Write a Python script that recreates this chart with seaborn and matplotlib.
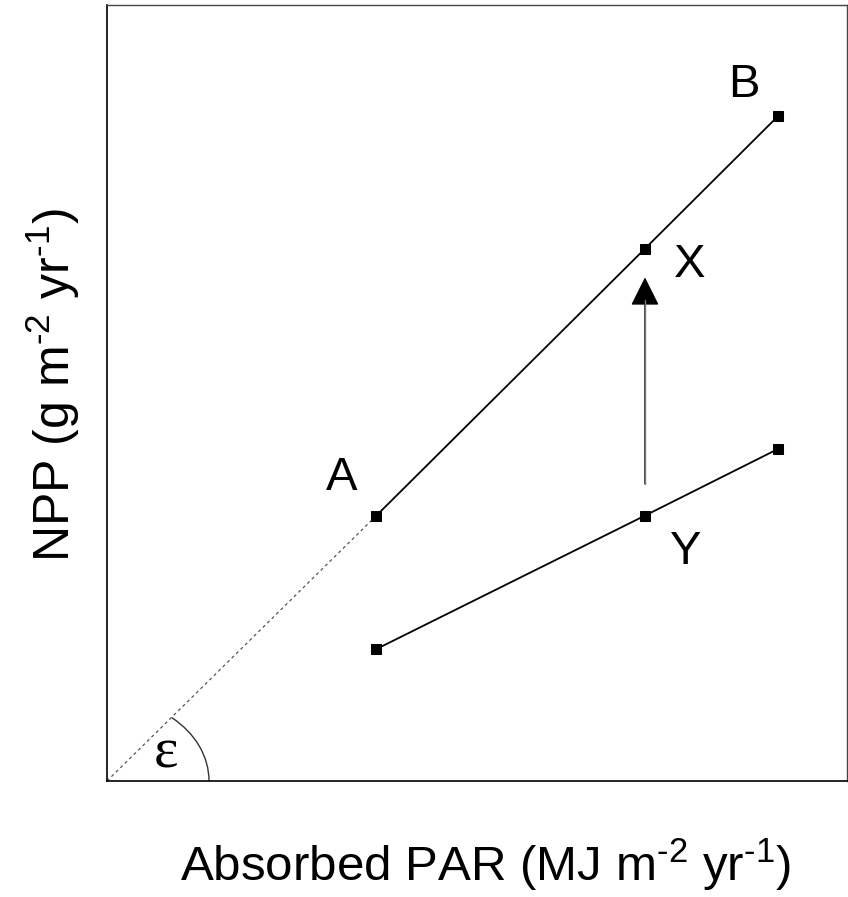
import numpy as np
import pandas as pd
import matplotlib
matplotlib.use("Agg")
import matplotlib.pyplot as plt
from matplotlib.patches import Arc
import seaborn as sns

# Light-use-efficiency diagram: NPP against absorbed PAR
par = [3.64, 7.27, 9.07]
npp_high = [3.42, 6.86, 8.57]
npp_low = [1.70, 3.42, 4.28]
point_labels_high = ["A", "X", "B"]
point_labels_low = ["", "Y", ""]

sns.set_style("white")
plt.rcParams["font.family"] = ["Liberation Sans", "DejaVu Sans"]
plt.rcParams["text.color"] = "black"
plt.rcParams["axes.labelcolor"] = "black"
plt.rcParams["mathtext.fontset"] = "custom"
plt.rcParams["mathtext.rm"] = "Liberation Sans"
plt.rcParams["mathtext.it"] = "Liberation Sans:italic"
plt.rcParams["mathtext.default"] = "regular"

df = pd.DataFrame({
    "par": par + par,
    "npp": npp_high + npp_low,
    "series": ["high"] * 3 + ["low"] * 3,
})

fig = plt.figure(figsize=(8.48, 8.97), dpi=100)
ax = fig.add_axes([107 / 848, 116 / 897, 740 / 848, 776 / 897])

sns.lineplot(data=df, x="par", y="npp", units="series", estimator=None,
             color="black", linewidth=1.3, marker="s", markersize=7,
             markeredgecolor="black", markerfacecolor="black", ax=ax,
             sort=False)

# dotted extension of the upper line back to the origin
ax.plot([0, par[0]], [0, npp_high[0]], color="#555555", linewidth=0.9,
        linestyle=(0, (2.5, 2.5)), zorder=1)

# arrow from Y up towards X
ax.annotate("", xy=(par[1], 6.49), xytext=(par[1], 3.83),
            arrowprops=dict(arrowstyle="-|>,head_length=1.8,head_width=0.9",
                            mutation_scale=10, color="black",
                            linewidth=1.0, shrinkA=0, shrinkB=0))
# grey shaft over the arrow body
ax.plot([par[1], par[1]], [3.83, 6.2], color="#777777", linewidth=1.0, zorder=3)

# angle arc at origin (epsilon)
ax.add_patch(Arc((0, 0), width=2 * 102 / 74, height=2 * 82 / 77.6,
                 theta1=0, theta2=43, color="#333333", linewidth=1.0))
ax.text(0.80, 0.17, "\u03b5", fontsize=42, family="Liberation Serif",
        ha="center", va="baseline")

offsets_high = [(-25, 27), (32, -12), (-25, 22)]
for x, y, lab, off in zip(par, npp_high, point_labels_high, offsets_high):
    ax.annotate(lab, (x, y), xytext=off, textcoords="offset points",
                ha="center", va="center", fontsize=34)
offsets_low = [(0, 0), (29, -26), (0, 0)]
for x, y, lab, off in zip(par, npp_low, point_labels_low, offsets_low):
    if lab:
        ax.annotate(lab, (x, y), xytext=off, textcoords="offset points",
                    ha="center", va="center", fontsize=34)

ax.set_xlim(0, 10)
ax.set_ylim(0, 10)
ax.set_xticks([])
ax.set_yticks([])
for side in ["left", "bottom"]:
    ax.spines[side].set_color("black")
    ax.spines[side].set_linewidth(1.2)
for side in ["top", "right"]:
    ax.spines[side].set_color("#444444")
    ax.spines[side].set_linewidth(1.0)

ax.set_xlabel(r"Absorbed PAR (MJ m$^{\text{-2}}$ yr$^{\text{-1}}$)",
              fontsize=35.5, labelpad=40)
ax.xaxis.label.set_x(0.512)
ax.set_ylabel(r"NPP (g m$^{\text{-2}}$ yr$^{\text{-1}}$)",
              fontsize=36, labelpad=18)
ax.yaxis.label.set_y(0.51)

fig.savefig("out.png", dpi=100)
